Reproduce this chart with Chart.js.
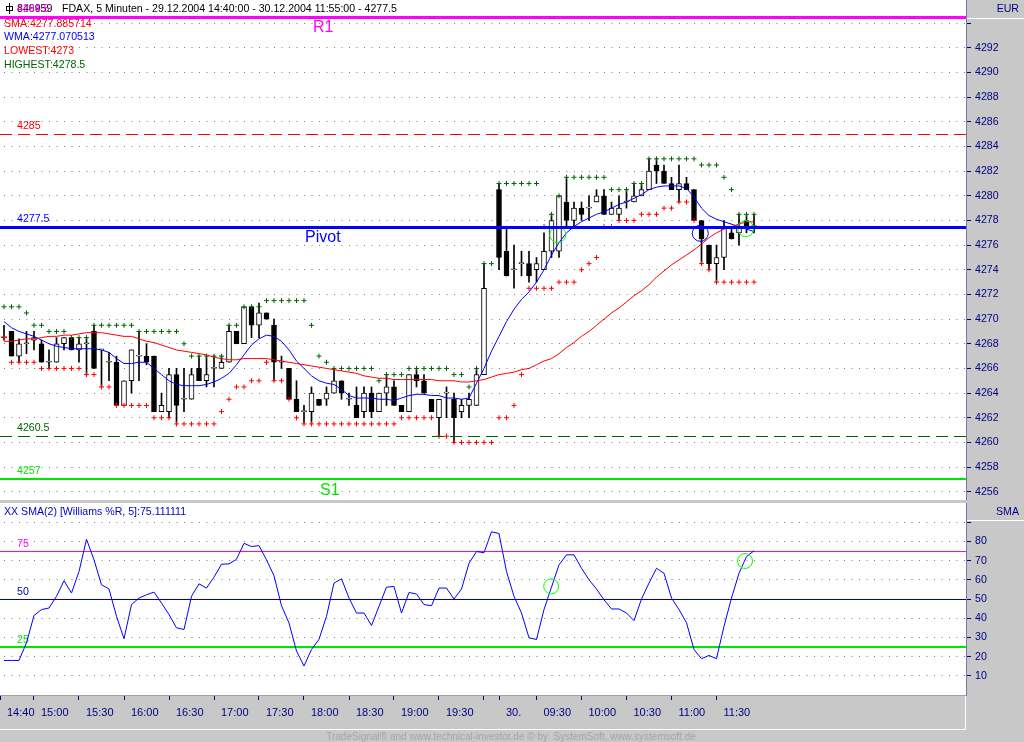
<!DOCTYPE html>
<html>
<head>
<meta charset="utf-8">
<title>FDAX 5 Minuten</title>
<script src="https://cdn.jsdelivr.net/npm/chart.js@4.4.1/dist/chart.umd.min.js"></script>
<style>
  html, body { margin: 0; padding: 0; background: #c8c8c8; }
  #frame { position: relative; width: 1024px; height: 742px; overflow: hidden; }
  canvas { position: absolute; left: 0; display: block; }
  #price { top: 0; }
  #osc { top: 500px; }
</style>
</head>
<body>
<div id="frame">
  <canvas id="price" width="1024" height="500"></canvas>
  <canvas id="osc" width="1024" height="242"></canvas>
</div>
<script>
/* ------------------------------------------
   DATA (one entry per 5-min bar, slot 65 empty)
   ------------------------------------------ */
var opens = [
  4268.5, 4269, 4267, 4268, 4268.3, 4268, 4266.5, 4266.5, 4268, 4268.5,
  4267.5, 4268, 4269, 4267.5, 4266.5, 4266.5, 4263, 4265, 4267, 4267,
  4267, 4262.5, 4262.5, 4265.5, 4263.5, 4263.5, 4266, 4265, 4266, 4266,
  4266.5, 4269, 4268, 4271, 4269.5, 4270.5, 4269.5, 4266.5, 4266, 4263.5,
  4262.5, 4262.5, 4263.5, 4263.5, 4264, 4265, 4263.5, 4263, 4262.5, 4264,
  4262.5, 4264, 4264.5, 4263, 4262.5, 4265.5, 4265, 4263.5, 4262, 4264,
  4263.5, 4262.5, 4263, 4263, 4265.5, null, 4280.5, 4275.5, 4274, 4274.5,
  4274.5, 4274, 4274, 4275.5, 4275.5, 4279.5, 4278, 4279, 4279, 4279.5,
  4280, 4278.5, 4278.5, 4279.5, 4279.5, 4280, 4280.5, 4282.5, 4282, 4281,
  4280.5, 4281, 4280.5, 4278, 4276, 4274.5, 4275, 4277, 4277, 4278,
  4277.5
];
var highs = [
  4269.5, 4269, 4268.4, 4269, 4269, 4268.3, 4267.5, 4268.5, 4268.5, 4268.5,
  4268.5, 4268.5, 4269.5, 4267.5, 4267.3, 4267, 4265, 4267.5, 4269, 4268,
  4267, 4264, 4266, 4266, 4266, 4266, 4267, 4267, 4267, 4267,
  4269.5, 4269, 4271, 4271, 4271.3, 4270.5, 4270, 4267, 4266, 4265,
  4263, 4264.5, 4263.5, 4264.5, 4266, 4265, 4264, 4264.5, 4264.5, 4264.5,
  4264, 4265.5, 4265, 4263, 4265.5, 4266, 4265.5, 4263.5, 4263.5, 4264.5,
  4264, 4263.5, 4264, 4266, 4274.5, null, 4281, 4277.5, 4276, 4275.5,
  4275.5, 4275, 4277, 4278.5, 4280, 4281.5, 4279.5, 4279.5, 4280, 4280.5,
  4280.5, 4279.5, 4280, 4280.5, 4281, 4281, 4283, 4283, 4282.5, 4281.5,
  4282.5, 4281.5, 4280.5, 4278, 4276, 4276, 4278, 4277.5, 4278.5, 4278.5,
  4278.5
];
var lows = [
  4268.3, 4267, 4266.5, 4267.2, 4267.5, 4266.5, 4266, 4266.5, 4267.5, 4267.5,
  4266.5, 4265.5, 4266, 4264.5, 4265, 4263, 4263, 4264, 4265, 4266.3,
  4262.5, 4262.5, 4262, 4261.6, 4262.5, 4263.5, 4265, 4264.5, 4264.5, 4266,
  4266.5, 4268, 4268, 4268.5, 4268.5, 4270, 4265, 4266, 4263.5, 4262.5,
  4261.6, 4261.6, 4263, 4263, 4264, 4263.5, 4263, 4262, 4262, 4262,
  4262.5, 4263, 4263, 4262.5, 4262.5, 4264.5, 4264, 4262.5, 4260.5, 4262,
  4260, 4262, 4262, 4263, 4265.5, null, 4274, 4273.5, 4272.5, 4273.5,
  4273, 4273, 4274, 4275, 4275, 4277.5, 4277.5, 4278, 4278, 4279.5,
  4278.5, 4278.5, 4278, 4279, 4279.5, 4280, 4280.5, 4281, 4281, 4280.5,
  4279.5, 4280.5, 4278, 4274.5, 4274, 4273, 4274, 4276.5, 4276, 4277,
  4277
];
var closes = [
  4268.5, 4267, 4268, 4268, 4268.5, 4266.5, 4266.5, 4268, 4268.5, 4267.5,
  4268, 4268, 4266, 4267.5, 4266.5, 4263, 4265, 4267.5, 4267, 4266.5,
  4262.5, 4263, 4265.5, 4263, 4263.5, 4265.5, 4265, 4265.5, 4266, 4266.5,
  4269, 4268, 4271, 4269.5, 4270.5, 4270, 4266.5, 4266.5, 4263.5, 4262.5,
  4262.5, 4264, 4263, 4264, 4265, 4264, 4263.5, 4262, 4264, 4262.5,
  4264, 4264.5, 4263, 4262.5, 4265.5, 4265, 4264, 4262.5, 4263.5, 4264,
  4262, 4263, 4263.5, 4265.5, 4272.5, null, 4275, 4273.5, 4274, 4274.5,
  4273.5, 4274.5, 4275.5, 4278, 4280, 4278, 4279, 4278.5, 4279, 4280,
  4278.5, 4279, 4279, 4279.5, 4280, 4280.5, 4282, 4282, 4281, 4280.5,
  4281, 4280.5, 4278, 4276.5, 4274.5, 4275, 4277.5, 4276.5, 4277.5, 4277.5,
  4277.5
];

var highestDots = [
  4271, 4271, 4271, 4270.5, 4269.5, 4269.5, 4269, 4269, 4269, 4268.5,
  4268.5, 4268.5, 4269.5, 4269.5, 4269.5, 4269.5, 4269.5, 4269.5, 4269, 4269,
  4269, 4269, 4269, 4269, 4268, 4267, 4267, 4267, 4267, 4267,
  4269.5, 4269.5, 4271, 4271, 4271, 4271.5, 4271.5, 4271.5, 4271.5, 4271.5,
  4271.5, 4269.5, 4267, 4266.5, 4266, 4266, 4266, 4266, 4266, 4266,
  4265, 4265.5, 4265.5, 4265.5, 4266, 4266, 4266, 4266, 4266, 4266,
  4265.5, 4265.5, 4264.5, 4266, 4274.5, 4274.5, 4281, 4281, 4281, 4281,
  4281, 4281, 4277.5, 4278.5, 4280, 4281.5, 4281.5, 4281.5, 4281.5, 4281.5,
  4281.5, 4280.5, 4280.5, 4280.5, 4281, 4281, 4283, 4283, 4283, 4283,
  4283, 4283, 4283, 4282.5, 4282.5, 4282.5, 4281.5, 4280.5, 4278.5, 4278.5,
  4278.5
];
var lowestDots = [
  4268.5, 4266.5, 4266.5, 4266.5, 4266.5, 4266, 4266, 4266, 4266, 4266,
  4266, 4265.5, 4265.5, 4264.5, 4264.5, 4263, 4263, 4263, 4263, 4263,
  4262, 4262, 4262, 4261.5, 4261.5, 4261.5, 4261.5, 4261.5, 4261.5, 4262.5,
  4263.5, 4264.5, 4264.5, 4265, 4265, 4266.5, 4265, 4265, 4263.5, 4262,
  4261.5, 4261.5, 4261.5, 4261.5, 4261.5, 4261.5, 4261.5, 4261.5, 4261.5, 4261.5,
  4261.5, 4261.5, 4261.5, 4262, 4262, 4262, 4262, 4262, 4260.5, 4260.5,
  4260, 4260, 4260, 4260, 4260, 4260, 4262, 4262, 4263, 4265.5,
  4272.5, 4272.5, 4272.5, 4272.5, 4273, 4273, 4273, 4274, 4274.5, 4275,
  4277.5, 4277.5, 4278, 4278, 4278, 4278.5, 4278.5, 4278.5, 4279, 4279,
  4279.5, 4279.5, 4278, 4274.5, 4274, 4273, 4273, 4273, 4273, 4273,
  4273
];

var smaLine = [
  4268.2, 4268.2, 4268.3, 4268.4, 4268.4, 4268.5, 4268.6, 4268.6, 4268.7, 4268.7,
  4268.8, 4268.9, 4268.9, 4268.9, 4268.8, 4268.7, 4268.6, 4268.6, 4268.4, 4268.2,
  4268.1, 4267.9, 4267.7, 4267.5, 4267.4, 4267.3, 4267.2, 4267.1, 4266.9, 4266.8,
  4266.7, 4266.7, 4266.8, 4266.8, 4266.8, 4266.8, 4266.7, 4266.6, 4266.5, 4266.4,
  4266.3, 4266.2, 4266.1, 4266.0, 4265.9, 4265.8, 4265.7, 4265.6, 4265.4, 4265.3,
  4265.2, 4265.2, 4265.1, 4265.1, 4265.1, 4265.1, 4265.1, 4265.1, 4265.0, 4265.0,
  4265.0, 4264.9, 4264.9, 4265.0, 4265.1, 4265.3, 4265.5, 4265.6, 4265.7, 4265.9,
  4266.0, 4266.3, 4266.6, 4266.8, 4267.2, 4267.7, 4268.1, 4268.6, 4269.0, 4269.5,
  4270.0, 4270.5, 4270.9, 4271.4, 4271.9, 4272.3, 4272.8, 4273.4, 4273.9, 4274.4,
  4274.8, 4275.2, 4275.6, 4276.1, 4276.6, 4277.0, 4277.3, 4277.5, 4277.7, 4277.9,
  4277.9
];
var wmaLine = [
  4269.8, 4269.3, 4269.0, 4268.8, 4268.6, 4268.3, 4268.0, 4267.8, 4267.7, 4267.6,
  4267.6, 4267.6, 4267.6, 4267.5, 4267.3, 4266.8, 4266.4, 4266.4, 4266.5, 4266.5,
  4266.0, 4265.5, 4265.0, 4264.7, 4264.6, 4264.6, 4264.6, 4264.7, 4264.9, 4265.2,
  4265.6, 4266.3, 4267.1, 4267.9, 4268.4, 4268.7, 4268.6, 4268.2, 4267.5, 4266.6,
  4266.0, 4265.4, 4265.0, 4264.8, 4264.7, 4264.3, 4263.8, 4263.6, 4263.6, 4263.6,
  4263.5, 4263.5, 4263.4, 4263.6, 4263.8, 4263.9, 4263.9, 4263.8, 4263.8, 4263.6,
  4263.6, 4263.5, 4263.6, 4264.8, 4266.0, 4267.4, 4268.6, 4269.8, 4270.8, 4271.6,
  4272.2, 4273.0, 4274.0, 4275.2, 4276.2, 4277.0, 4277.5, 4277.9, 4278.2, 4278.5,
  4278.7, 4279.0, 4279.3, 4279.5, 4279.8, 4280.1, 4280.5, 4280.7, 4280.8, 4280.8,
  4280.8, 4280.6, 4279.9, 4279.0, 4278.4, 4278.1, 4277.9, 4277.7, 4277.5, 4277.3,
  4277.1
];

var williams = [
  18.0, 18.0, 18.0, 27.2, 41.4, 44.5, 45.3, 51.4, 59.5, 53.1,
  64.3, 81.1, 70.4, 57.4, 55.2, 41.0, 29.3, 47.1, 50.5, 52.2,
  53.6, 47.9, 41.9, 35.0, 34.1, 51.4, 57.9, 55.7, 61.4, 68.1,
  68.3, 70.7, 79.0, 77.3, 77.8, 70.4, 62.1, 46.5, 37.5, 22.9,
  15.1, 23.7, 29.0, 41.0, 58.3, 60.5, 50.5, 42.7, 42.7, 36.2,
  46.2, 56.2, 56.5, 42.7, 53.4, 52.6, 47.1, 46.5, 55.7, 55.7,
  50.0, 55.2, 68.6, 74.7, 74.1, 85.0, 84.1, 64.3, 51.4, 42.7,
  29.8, 28.9, 44.5, 56.2, 67.8, 73.0, 73.0, 66.0, 60.0, 55.2,
  49.6, 44.8, 44.8, 42.7, 38.7, 50.0, 58.3, 66.0, 63.4, 50.5,
  44.5, 37.6, 23.7, 18.9, 20.6, 18.9, 35.8, 50.5, 63.4, 72.1,
  75.1
];

var levels = [4294.5, 4285, 4277.5, 4260.5, 4257];
var levelNames = ['R1', '', 'Pivot', '', 'S1'];
var oscLevels = [75, 50, 25];

// entry / exit markers (bar position, value)
var entryBars = [73.84, 98.9];
var entryPrices = [4276.84, 4277.34];
var exitBars = [92.84];
var exitPrices = [4276.96];
var oscMarkBars = [72.96, 98.8];
var oscMarkValues = [56.6, 69.8];

var priceTicks = [4256, 4258, 4260, 4262, 4264, 4266, 4268, 4270, 4272, 4274,
  4276, 4278, 4280, 4282, 4284, 4286, 4288, 4290, 4292, 4294];
var oscTicks = [10, 20, 30, 40, 50, 60, 70, 80, 90];
var timeTickBars = [0, 4, 10, 16, 22, 28, 34, 40, 46, 52, 58, 64, 66, 71, 77, 83, 89, 95];
var timeTickLabels = ['14:40', '15:00', '15:30', '16:00', '16:30', '17:00', '17:30', '18:00',
  '18:30', '19:00', '19:30', '', '30.', '09:30', '10:00', '10:30', '11:00', '11:30'];

/* ------------------------------------------
   SETUP
   ------------------------------------------ */
var FONT = '"Liberation Sans", Arial, Helvetica, sans-serif';
var PANEL_GRAY = '#c8c8c8';
var NAVY = '#000080';
var X_MIN = -4 / 7.5;
var X_MAX = 962 / 7.5;
var Y_MIN = 4255.33;
var Y_MAX = 4295.88;

Chart.defaults.font.family = FONT;
Chart.defaults.font.size = 10.6;
Chart.defaults.color = NAVY;

function toPoints(values) {
  var out = [];
  values.forEach(function (v, i) {
    if (v !== null) out.push({ x: i, y: v });
  });
  return out;
}

function pairPoints(xs, ys) {
  return xs.map(function (x, k) { return { x: x, y: ys[k] }; });
}

function drawText(ctx, str, x, y, color, size, align) {
  ctx.font = (size || 10.6) + 'px ' + FONT;
  ctx.fillStyle = color;
  ctx.textAlign = align || 'left';
  ctx.textBaseline = 'middle';
  ctx.fillText(str, x, y);
}

function hLine(ctx, x1, x2, y, color, width, dash) {
  ctx.save();
  ctx.strokeStyle = color;
  ctx.lineWidth = width;
  ctx.setLineDash(dash || []);
  ctx.beginPath();
  ctx.moveTo(x1, y);
  ctx.lineTo(x2, y);
  ctx.stroke();
  ctx.restore();
}

function paintPanel(chart) {
  var ctx = chart.ctx, a = chart.chartArea;
  ctx.save();
  ctx.fillStyle = PANEL_GRAY;
  ctx.fillRect(0, 0, chart.width, chart.height);
  ctx.fillStyle = '#ffffff';
  ctx.fillRect(a.left, a.top, a.right - a.left, a.bottom - a.top);
  ctx.restore();
}

// candle pieces
var wickData = [], bodyData = [], bodyFill = [];
closes.forEach(function (c, i) {
  if (c === null) return;
  wickData.push({ x: i, y: [lows[i], highs[i]] });
  bodyData.push({ x: i, y: [opens[i], c] });
  bodyFill.push(c >= opens[i] ? '#ffffff' : '#000000');
});

/* ------------------------------------------
   PRICE PANEL
   ------------------------------------------ */
var levelStyle = [
  { color: '#ff00ff', width: 3, dash: [], nameX: 313 },
  { color: '#ff0000', width: 1, dash: [12, 6] },
  { color: '#0000ff', width: 3, dash: [], nameX: 305 },
  { color: '#006400', width: 1, dash: [12, 6] },
  { color: '#00e600', width: 2, dash: [], nameX: 320 }
];

var priceDecor = {
  id: 'priceDecor',
  beforeDraw: paintPanel,
  afterDatasetsDraw: function (chart) {
    var ctx = chart.ctx, a = chart.chartArea, ys = chart.scales.y;
    ctx.save();
    ctx.beginPath();
    ctx.rect(a.left, a.top, a.right - a.left, a.bottom - a.top);
    ctx.clip();

    levels.forEach(function (v, k) {
      var st = levelStyle[k];
      var py = Math.round(ys.getPixelForValue(v)) + (st.width % 2 ? 0.5 : 0);
      hLine(ctx, a.left, a.right, py, st.color, st.width, st.dash);
    });

    // title line
    ctx.strokeStyle = '#000000';
    ctx.lineWidth = 1;
    ctx.strokeRect(6.5, 6.5, 6, 4);
    ctx.beginPath(); ctx.moveTo(9.5, 3); ctx.lineTo(9.5, 14); ctx.stroke();
    drawText(ctx, '846959', 17, 9, '#000000');
    drawText(ctx, 'FDAX, 5 Minuten - 29.12.2004 14:40:00 - 30.12.2004 11:55:00 - 4277.5', 62, 9, '#000000');

    levels.forEach(function (v, k) {
      var st = levelStyle[k];
      var py = ys.getPixelForValue(v);
      drawText(ctx, String(v), 17, py - 8, st.color);
      if (levelNames[k]) drawText(ctx, levelNames[k], st.nameX, py + 11, st.color, 16);
    });

    drawText(ctx, 'SMA:4277.885714', 4, 24, '#ff0000');
    drawText(ctx, 'WMA:4277.070513', 4, 37, '#0000ff');
    drawText(ctx, 'LOWEST:4273', 4, 51, '#ff0000');
    drawText(ctx, 'HIGHEST:4278.5', 4, 65, '#006400');
    ctx.restore();

    // currency box over the axis
    ctx.save();
    ctx.fillStyle = PANEL_GRAY;
    ctx.fillRect(a.right + 1, 0, chart.width - a.right, 18);
    hLine(ctx, a.right + 1, chart.width, 18.5, '#ffffff', 1);
    drawText(ctx, 'EUR', 1019, 9, NAVY, 10.6, 'right');
    ctx.restore();
  }
};

new Chart(document.getElementById('price'), {
  type: 'line',
  data: {
    datasets: [
      { type: 'line', data: pairPoints(entryBars, entryPrices), showLine: false,
        pointStyle: 'circle', pointRadius: 8, pointBorderWidth: 1,
        pointBorderColor: '#00ff00', pointBackgroundColor: 'rgba(0,0,0,0)', order: 0 },
      { type: 'line', data: pairPoints(exitBars, exitPrices), showLine: false,
        pointStyle: 'circle', pointRadius: 8, pointBorderWidth: 1,
        pointBorderColor: '#0000ff', pointBackgroundColor: 'rgba(0,0,0,0)', order: 0 },
      { type: 'line', data: toPoints(smaLine), borderColor: '#ff0000', borderWidth: 1,
        pointRadius: 0, tension: 0, order: 1 },
      { type: 'line', data: toPoints(wmaLine), borderColor: '#0000ff', borderWidth: 1,
        pointRadius: 0, tension: 0, order: 1 },
      { type: 'line', data: toPoints(highestDots), showLine: false, pointStyle: 'cross',
        pointRadius: 2.5, pointBorderWidth: 1, pointBorderColor: '#006400', order: 2 },
      { type: 'line', data: toPoints(lowestDots), showLine: false, pointStyle: 'cross',
        pointRadius: 2.5, pointBorderWidth: 1, pointBorderColor: '#ff0000', order: 2 },
      { type: 'bar', data: bodyData, backgroundColor: bodyFill, borderColor: '#000000',
        borderWidth: 1, borderSkipped: false, barThickness: 5, minBarLength: 1,
        grouped: false, order: 3 },
      { type: 'bar', data: wickData, backgroundColor: '#000000', borderWidth: 0,
        barThickness: 1, grouped: false, order: 4 }
    ]
  },
  options: {
    responsive: false,
    animation: false,
    events: [],
    layout: { padding: 0, autoPadding: false },
    plugins: { legend: { display: false }, tooltip: { enabled: false } },
    scales: {
      x: { type: 'linear', min: X_MIN, max: X_MAX, offset: false, display: false },
      y: {
        type: 'linear', position: 'right', min: Y_MIN, max: Y_MAX,
        afterBuildTicks: function (s) {
          s.ticks = priceTicks.map(function (v) { return { value: v }; });
        },
        afterFit: function (s) { s.width = 58; s.paddingTop = 0; s.paddingBottom = 0; },
        ticks: {
          padding: 4, color: NAVY, font: { size: 10.6 },
          callback: function (v) { return v === 4294 ? '' : String(v); }
        },
        grid: { color: '#808080', lineWidth: 1, tickColor: NAVY, tickLength: 5 },
        border: { display: true, color: 'rgba(0,0,128,0.4)', dash: [1, 6.5], dashOffset: 3.5 }
      }
    }
  },
  plugins: [priceDecor]
});

/* ------------------------------------------
   OSCILLATOR PANEL
   ------------------------------------------ */
var oscStyle = [
  { color: '#ff00ff', width: 1 },
  { color: '#0000aa', width: 1 },
  { color: '#00e600', width: 2 }
];

var oscDecor = {
  id: 'oscDecor',
  beforeDraw: paintPanel,
  beforeDatasetsDraw: function (chart) {
    var ctx = chart.ctx, a = chart.chartArea, ys = chart.scales.y;
    ctx.save();
    oscLevels.forEach(function (v, k) {
      var st = oscStyle[k];
      var py = Math.round(ys.getPixelForValue(v)) + (st.width % 2 ? 0.5 : 0);
      hLine(ctx, a.left, a.right, py, st.color, st.width);
      drawText(ctx, String(v), 17, ys.getPixelForValue(v) - 7, st.color);
    });
    drawText(ctx, 'XX SMA(2) [Williams %R, 5]:75.111111', 4, 12, '#0000cc');
    ctx.restore();
  },
  afterDraw: function (chart) {
    var ctx = chart.ctx, a = chart.chartArea;
    ctx.save();
    ctx.fillStyle = PANEL_GRAY;
    ctx.fillRect(a.right + 1, a.top, chart.width - a.right, 17);
    hLine(ctx, a.right + 1, chart.width, a.top + 17.5, '#ffffff', 1);
    drawText(ctx, 'SMA', 1019, a.top + 9, NAVY, 10.6, 'right');

    // time axis frame and footer
    hLine(ctx, 0, a.right, a.bottom + 0.5, '#a0a0a0', 1);
    hLine(ctx, 0, a.right, a.bottom + 34.5, '#ffffff', 1);
    ctx.strokeStyle = '#ffffff';
    ctx.beginPath();
    ctx.moveTo(a.right - 0.5, a.bottom + 1);
    ctx.lineTo(a.right - 0.5, a.bottom + 35);
    ctx.stroke();
    drawText(ctx, 'TradeSignal\u00ae and www.technical-investor.de \u00a9 by  SystemSoft, www.systemsoft.de',
      511, a.bottom + 42, '#a4a4a4', 10, 'center');
    ctx.restore();
  }
};

new Chart(document.getElementById('osc'), {
  type: 'line',
  data: {
    datasets: [
      { data: pairPoints(oscMarkBars, oscMarkValues), showLine: false,
        pointStyle: 'circle', pointRadius: 7.5, pointBorderWidth: 1,
        pointBorderColor: '#00ff00', pointBackgroundColor: 'rgba(0,0,0,0)', order: 0 },
      { data: toPoints(williams), borderColor: '#0000ff', borderWidth: 1,
        pointRadius: 0, tension: 0, order: 1 }
    ]
  },
  options: {
    responsive: false,
    animation: false,
    events: [],
    layout: { padding: { top: 3, left: 0, right: 0, bottom: 0 }, autoPadding: false },
    plugins: { legend: { display: false }, tooltip: { enabled: false } },
    scales: {
      x: {
        type: 'linear', min: X_MIN, max: X_MAX, offset: false,
        afterBuildTicks: function (s) {
          s.ticks = timeTickBars.map(function (v, k) { return { value: k === 0 ? X_MIN : v }; });
        },
        afterFit: function (s) { s.height = 47; s.paddingLeft = 0; s.paddingRight = 0; },
        ticks: {
          autoSkip: false, minRotation: 0, maxRotation: 0, align: 'start', labelOffset: 7,
          padding: 6, color: NAVY, font: { size: 11 },
          callback: function (v, k) { return timeTickLabels[k]; }
        },
        grid: { drawOnChartArea: false, drawTicks: true, tickLength: 5, tickColor: NAVY },
        border: { display: false }
      },
      y: {
        type: 'linear', position: 'right', min: 0, max: 100,
        afterBuildTicks: function (s) {
          s.ticks = oscTicks.map(function (v) { return { value: v }; });
        },
        afterFit: function (s) { s.width = 58; s.paddingTop = 0; s.paddingBottom = 0; },
        ticks: {
          padding: 4, color: NAVY, font: { size: 10.6 },
          callback: function (v) { return v === 90 ? '' : String(v); }
        },
        grid: { color: '#808080', lineWidth: 1, tickColor: NAVY, tickLength: 5 },
        border: { display: true, color: 'rgba(0,0,128,0.4)', dash: [1, 6.5], dashOffset: 3.5 }
      }
    }
  },
  plugins: [oscDecor]
});
</script>
</body>
</html>
